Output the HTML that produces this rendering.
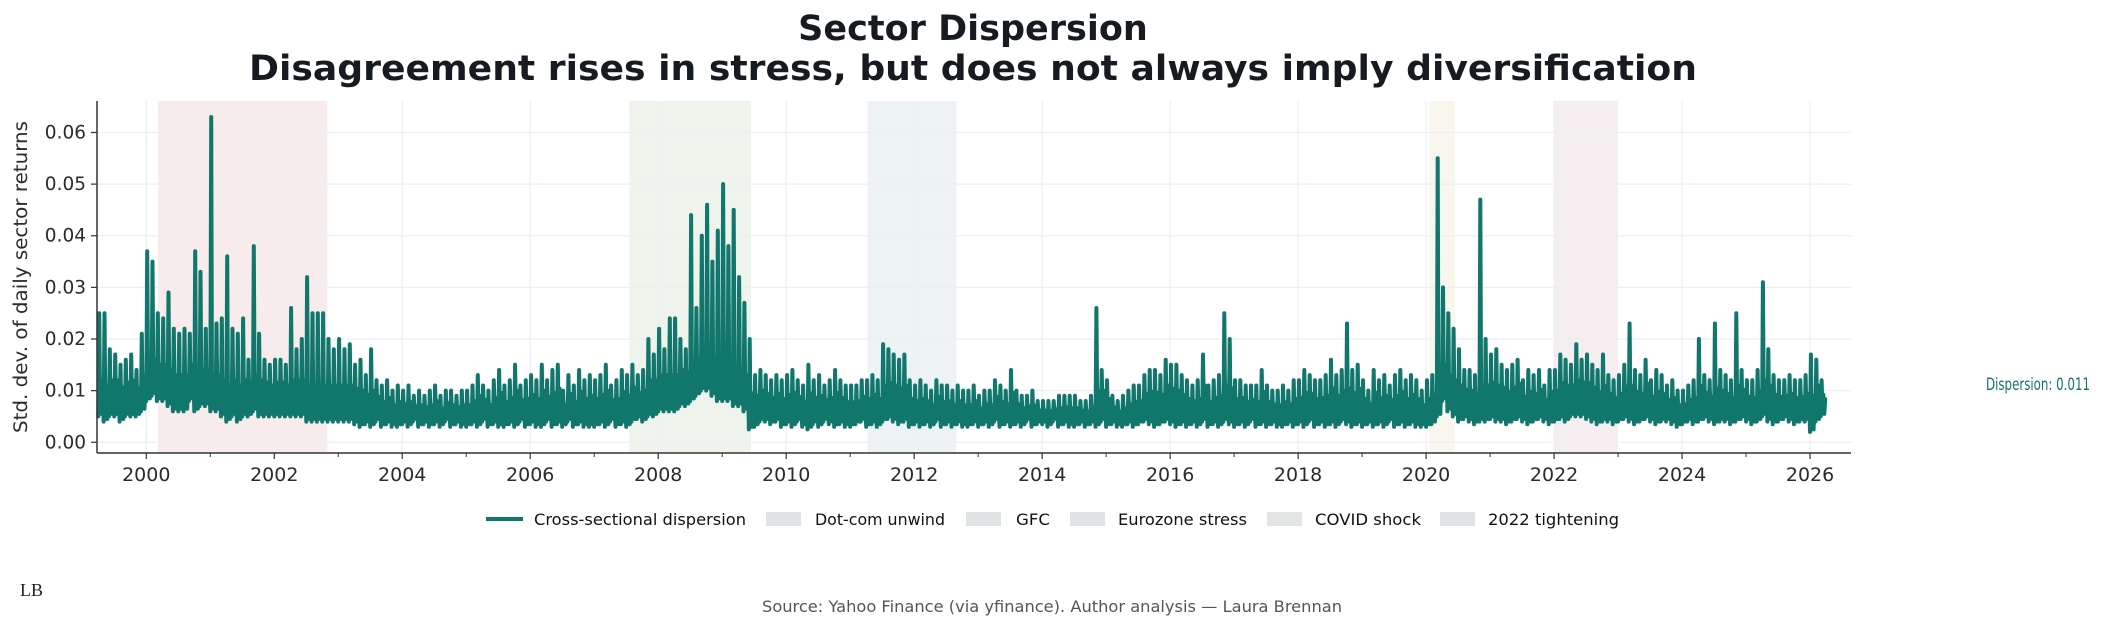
<!DOCTYPE html>
<html><head><meta charset="utf-8">
<style>
html,body{margin:0;padding:0;background:#fff;}
svg{display:block;font-family:"DejaVu Sans","Liberation Sans",sans-serif;}
</style></head>
<body>
<svg id="chart" width="2104" height="628" viewBox="0 0 2104 628" xmlns="http://www.w3.org/2000/svg">
<text x="973" y="40" text-anchor="middle" font-size="35" font-weight="bold" fill="#161b22">Sector Dispersion</text>
<text x="973" y="80" text-anchor="middle" font-size="35" font-weight="bold" fill="#161b22" textLength="1448" lengthAdjust="spacingAndGlyphs">Disagreement rises in stress, but does not always imply diversification</text>
<g id="shade"></g>
<g id="grid"></g>
<g id="series"></g>
<g id="axes"></g>
<text transform="translate(27,277) rotate(-90)" text-anchor="middle" font-size="18.5" fill="#2b2b2b" textLength="312" lengthAdjust="spacingAndGlyphs">Std. dev. of daily sector returns</text>
<text x="1986" y="390" font-size="17" fill="#11766b" font-family="DejaVu Sans Condensed, DejaVu Sans, sans-serif" textLength="104" lengthAdjust="spacingAndGlyphs">Dispersion: 0.011</text>
<g id="legend">
  <line x1="486" y1="519" x2="523" y2="519" stroke="#11766b" stroke-width="4"/>
  <text x="534" y="525" font-size="16" fill="#111" textLength="212" lengthAdjust="spacingAndGlyphs">Cross-sectional dispersion</text>
  <rect x="766" y="512" width="35" height="14" fill="#dfe3e3"/>
  <text x="815" y="525" font-size="16" fill="#111" textLength="130" lengthAdjust="spacingAndGlyphs">Dot-com unwind</text>
  <rect x="966" y="512" width="35" height="14" fill="#dfe3e3"/>
  <text x="1016" y="525" font-size="16" fill="#111" textLength="34" lengthAdjust="spacingAndGlyphs">GFC</text>
  <rect x="1070" y="512" width="35" height="14" fill="#dfe3e3"/>
  <text x="1118" y="525" font-size="16" fill="#111" textLength="129" lengthAdjust="spacingAndGlyphs">Eurozone stress</text>
  <rect x="1267" y="512" width="35" height="14" fill="#e3e5e4"/>
  <text x="1315" y="525" font-size="16" fill="#111" textLength="106" lengthAdjust="spacingAndGlyphs">COVID shock</text>
  <rect x="1440" y="512" width="35" height="14" fill="#dfe3e3"/>
  <text x="1488" y="525" font-size="16" fill="#111" textLength="131" lengthAdjust="spacingAndGlyphs">2022 tightening</text>
</g>
<text x="1052" y="612" text-anchor="middle" font-size="16" fill="#555" textLength="580" lengthAdjust="spacingAndGlyphs">Source: Yahoo Finance (via yfinance). Author analysis — Laura Brennan</text>
<text x="20" y="596" font-family="Liberation Serif, serif" font-size="18" fill="#222">LB</text>
</svg>
<script>
// monthly envelope of daily dispersion, starting April 1999 (units: 0.001)
const startYear = 1999.25;
const hiVals = [
25,25,18,17,15,16,17,14,21,
37,35,25,24,29,22,21,22,21,37,33,22,
63,23,24,36,22,21,24,16,38,21,16,15,
16,16,15,26,18,20,32,25,25,25,20,18,
20,18,19,15,16,13,18,12,11,12,10,11,
10,11,9,10,9,10,11,9,10,10,9,10,
10,11,13,11,10,12,14,11,12,15,11,12,
13,12,15,12,14,15,10,13,11,14,12,13,
12,13,15,11,12,14,13,15,13,14,20,17,
22,18,24,24,20,18,44,26,40,46,35,41,
50,38,45,32,27,20,13,14,13,12,13,12,
13,14,12,11,15,12,13,11,12,14,12,11,
11,11,12,12,13,12,19,18,17,16,17,12,
11,12,11,10,12,11,11,10,11,10,10,11,
9,10,10,12,11,10,14,10,9,9,10,8,
8,8,8,9,9,9,9,8,8,9,26,14,
12,9,8,9,10,11,11,13,14,14,13,16,
15,15,13,12,11,12,17,11,12,13,25,20,
12,12,11,11,11,14,11,10,10,11,10,12,
12,14,13,12,12,13,16,13,14,23,14,15,
12,10,14,12,13,11,13,14,12,13,12,10,
12,13,55,30,25,22,18,14,14,13,47,20,
17,18,15,14,15,16,12,14,13,14,11,14,
14,17,16,15,19,16,17,15,14,17,13,12,
13,15,23,14,13,16,12,14,13,11,12,10,
10,11,12,20,13,12,23,14,13,12,25,14,
12,12,14,31,18,13,12,12,13,12,12,13,
17,16,12];
const loVals = [
5,4,5,5,4,5,5,5,6,
8,9,8,8,7,6,6,6,8,6,7,7,
6,6,5,4,5,4,5,5,6,5,5,5,
5,5,5,5,5,5,4,4,4,4,4,4,
4,4,4,3.5,3,3.5,3,4,3,3.5,3,3,
3.5,3,4,3,3.5,3,3.5,3,4,3,3.5,3,
3,3.5,3,4,3,3.5,3,3,3.5,3,4,3,
3.5,3,3,4,3,3.5,3,4,3,3.5,3,3,
3,3.5,3,4,3,3.5,3,4,4.5,4,5,5,
6,6,6,6,7,7,8,9,10,10,9,8,
8,8,7,7,6,2.5,3,4,4,3.5,4,3,
3.5,3,4,3,2.5,3.5,3,4,3.5,3,3.5,3,
3,3.5,4,3,3.5,3,4,4.5,4,3.5,4,3,
3.5,3,3.5,3,4,3,3.5,3,3.5,3,3,3.5,
3,3.5,3,4,3,3.5,3,3.5,3,4,3,3.5,
3.5,3,4,3,3.5,3,3,3.5,3,3.5,3,4,
3,3.5,3,3,3.5,3,3.5,4,3.5,3,3.5,4,
3.5,3,3.5,3,3.5,3,4,3,3.5,3,4,3.5,
3,3.5,3,4,3,3.5,3,3.5,3,3,3.5,3,
3.5,3,4,3,3.5,3,3.5,3,4,3.5,3,3.5,
3,3.5,3,3.5,3,4,3,3.5,3,3.5,3,3,
3,3.5,5,8,6,5,4,4.5,4,3.5,4,4,
4.5,4,4,3.5,4,4.5,4,3.5,4,4.5,4,3.5,
4,4.5,4,5,5,5,4.5,4,3.5,4,4,3.5,
4,4.5,4,3.5,4,4.5,4,3.5,4,4,3.5,3,
3.5,4,3.5,4,4.5,4,3.5,4,4,3.5,4,4.5,
4,3.5,4,5,4,3.5,4,4.5,4,3.5,4,4,
2,4,5];
const regimeNames = ["dotcom","gfc","eurozone","covid","tightening-2022"];
const regimeStart = [2000.18, 2007.55, 2011.27, 2020.05, 2022.0];
const regimeEnd = [2002.83, 2009.45, 2012.66, 2020.45, 2023.0];
const regimeColors = ["#f7eceb","#eef3ec","#edf2f5","#f9f6ee","#f4eef0"];
const yTicks = [0, 0.01, 0.02, 0.03, 0.04, 0.05, 0.06];
const yTickLabels = ["0.00","0.01","0.02","0.03","0.04","0.05","0.06"];
const xTicks = [2000,2002,2004,2006,2008,2010,2012,2014,2016,2018,2020,2022,2024,2026];

const NS = "http://www.w3.org/2000/svg";
const L = 97, R = 1851, T = 101, B = 453;
const X0 = 1999.23, X1 = 2026.64;
const Y0 = -0.00208, Y1 = 0.0661;
function xs(v){ return L + (v - X0) / (X1 - X0) * (R - L); }
function ys(v){ return B - (v - Y0) / (Y1 - Y0) * (B - T); }
function mk(tag, attrs, parent){
  const e = document.createElementNS(NS, tag);
  for (const k in attrs) e.setAttribute(k, attrs[k]);
  parent.appendChild(e);
  return e;
}
const shade = document.getElementById('shade');
regimeStart.forEach((s, i) => {
  const r = mk('rect', {x: xs(s), y: T, width: xs(regimeEnd[i]) - xs(s), height: B - T, fill: regimeColors[i]}, shade);
  
  
});
const grid = document.getElementById('grid');
const axes = document.getElementById('axes');
yTicks.forEach((v, i) => {
  const g = mk('line', {x1: L, x2: R, y1: ys(v), y2: ys(v), stroke: '#eceff2', 'stroke-width': 1.2}, grid);
  
  
  mk('line', {x1: L - 6, x2: L, y1: ys(v), y2: ys(v), stroke: '#333', 'stroke-width': 1.2}, axes);
  const t = mk('text', {x: L - 11, y: ys(v) + 6, 'text-anchor': 'end', 'font-size': 18.5, fill: '#2b2b2b'}, axes);
  t.textContent = yTickLabels[i];
  
  
});
xTicks.forEach(v => {
  const g = mk('line', {x1: xs(v), x2: xs(v), y1: T, y2: B, stroke: '#eceff2', 'stroke-width': 1.2}, grid);
  
  
  mk('line', {x1: xs(v), x2: xs(v), y1: B, y2: B + 6, stroke: '#333', 'stroke-width': 1.2}, axes);
  if (xs(v - 1) >= L) mk('line', {x1: xs(v - 1), x2: xs(v - 1), y1: B, y2: B + 4, stroke: '#333', 'stroke-width': 1}, axes);
  const t = mk('text', {x: xs(v), y: B + 28, 'text-anchor': 'middle', 'font-size': 19, fill: '#2b2b2b'}, axes);
  t.textContent = String(v);
  
  
});
const sl = mk('line', {x1: L, x2: L, y1: T, y2: B, stroke: '#333', 'stroke-width': 1.5}, axes);


const sb = mk('line', {x1: L, x2: R, y1: B, y2: B, stroke: '#333', 'stroke-width': 1.5}, axes);



// dense daily-like path within each month: low -> peak -> low -> core -> low -> core
const pts = [];
hiVals.forEach((h, m) => {
  const t = startYear + m / 12;
  const lo = loVals[m];
  const core = Math.min(h, lo + Math.min(7, (h - lo) * 0.6));
  const seq = [lo, h, lo + 1.5, core, lo + 0.5, core * 0.8 + lo * 0.2];
  seq.forEach((v, k) => {
    pts.push(xs(t + k / 72).toFixed(1) + ',' + ys(v / 1000).toFixed(1));
  });
});
const line = mk('polyline', {points: pts.join(' '), fill: 'none', stroke: '#11766b', 'stroke-width': 4, 'stroke-linejoin': 'round', 'stroke-linecap': 'round'}, document.getElementById('series'));


</script>
</body></html>
